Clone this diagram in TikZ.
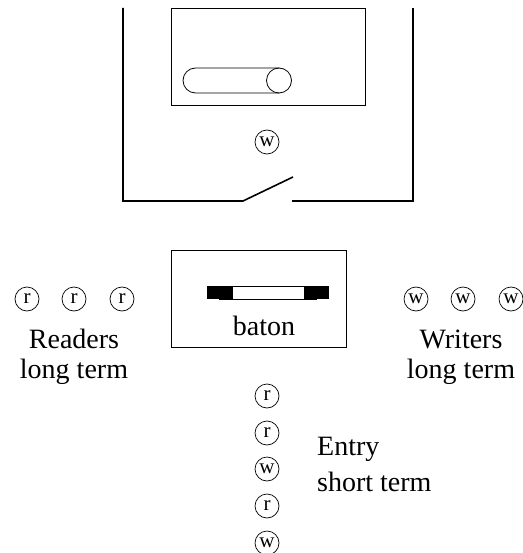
\documentclass[tikz,border=0pt]{standalone}
\usepackage{fontspec}
\setmainfont{Liberation Serif}
\begin{document}
\begin{tikzpicture}[x=1pt,y=-1pt,
  thick line/.style={line width=1.6pt},
  thin line/.style={line width=0.8pt},
  tok/.style={circle,draw,line width=0.7pt,minimum size=24pt,inner sep=0pt,font=\fontsize{21}{21}\selectfont},
  lbl/.style={font=\fontsize{28}{30}\selectfont,anchor=base,inner sep=0pt}]
\useasboundingbox (0,0) rectangle (522,553);
% outer enclosure
\coordinate (tl) at (123,8);
\coordinate (bl) at (123,201);
\coordinate (gl) at (243,201);
\coordinate (gt) at (293,177);
\coordinate (gr) at (292,201);
\coordinate (br) at (413,201);
\coordinate (tr) at (413,8);
\draw[thick line] (tl) -- (bl) -- (gl) -- (gt);
\draw[thick line] (gr) -- (br) -- (tr);
% inner room
\node[draw,thin line,minimum width=194pt,minimum height=97pt,inner sep=0pt] (room) at (268,56.5) {};
\draw[thin line] (279,68) -- (195.5,68) arc[start angle=270,end angle=90,radius=12.5] -- (279,93);
\node[circle,draw,thin line,minimum size=25pt,inner sep=0pt] (knob) at (279,80.5) {};
\node[tok] (w0) at (267,142) {w};
% baton box
\node[draw,thin line,minimum width=175pt,minimum height=97pt,inner sep=0pt] (box) at (258.5,298.5) {};
\node[draw,thin line,minimum width=97pt,minimum height=13pt,inner sep=0pt] (bar) at (268,292.5) {};
\fill (207,286) rectangle (233,299);
\fill (304,286) rectangle (329,299);
\node[lbl] (baton) at (264,335) {baton};
% readers
\node[tok] (r1) at (27,299) {r};
\node[tok] (r2) at (74,299) {r};
\node[tok] (r3) at (122,299) {r};
\node[lbl] (rd1) at (74,348) {Readers};
\node[lbl] (rd2) at (74,378) {long term};
% writers
\node[tok] (w1) at (416,299) {w};
\node[tok] (w2) at (463,299) {w};
\node[tok] (w3) at (511,299) {w};
\node[lbl] (wr1) at (461,348) {Writers};
\node[lbl] (wr2) at (461,378) {long term};
% entry queue
\node[tok] (e1) at (267,396) {r};
\node[tok] (e2) at (267,433) {r};
\node[tok] (e3) at (267,469) {w};
\node[tok] (e4) at (267,506) {r};
\node[tok] (e5) at (267,543) {w};
\node[lbl,anchor=base west] (en1) at (317,455) {Entry};
\node[lbl,anchor=base west] (en2) at (317,491) {short term};
\end{tikzpicture}
\end{document}
